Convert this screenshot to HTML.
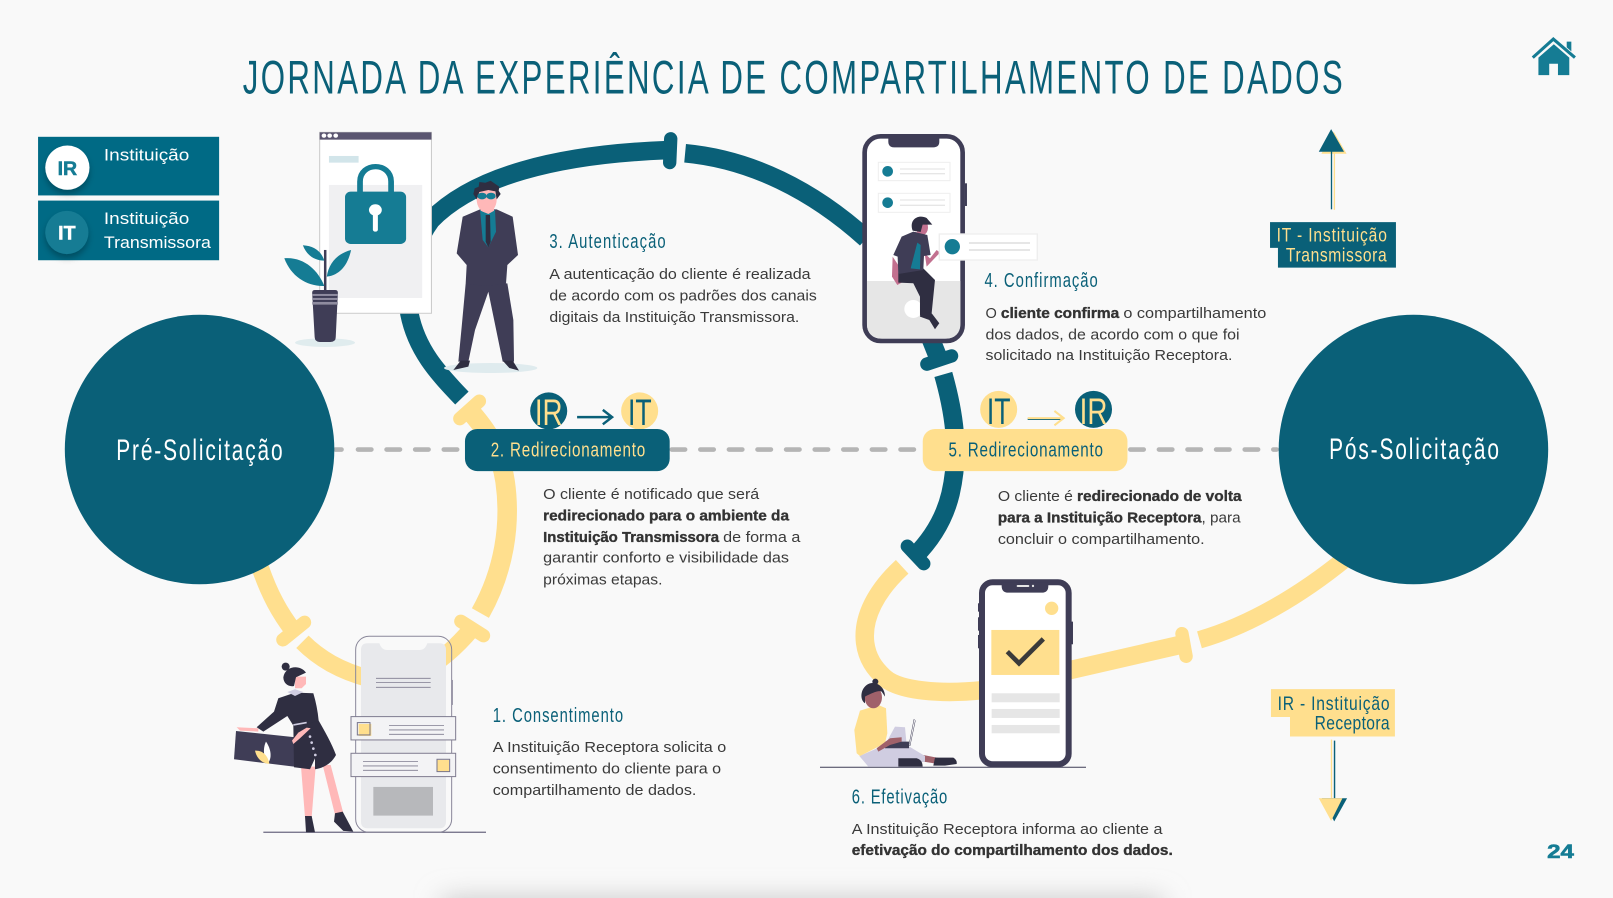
<!DOCTYPE html>
<html lang="pt"><head><meta charset="utf-8"><title>Jornada</title>
<style>html,body{margin:0;padding:0;background:#f9f9f9;width:1613px;height:898px;overflow:hidden}svg{display:block}
.n{font-family:"Liberation Sans",sans-serif}
.h{font-family:"Liberation Sans",sans-serif;fill:#0a6078;font-size:20px}
.b{font-family:"Liberation Sans",sans-serif;fill:#3a3a3a;font-size:14.4px}
.s{font-family:"Liberation Sans",sans-serif;fill:#333;font-size:14.4px;font-weight:700;stroke:#333;stroke-width:.35}
.y{stroke:#ffdf8e;fill:none;stroke-width:17}
.t{stroke:#0a6078;fill:none;stroke-width:18}
.d{stroke:#b5b5b5;stroke-width:4.5;stroke-linecap:round;stroke-dasharray:13 14.8}
</style></head><body>
<svg width="1613" height="898" viewBox="0 0 1568 873" preserveAspectRatio="none" xmlns="http://www.w3.org/2000/svg">
<defs>
<filter id="bl" x="-20%" y="-300%" width="140%" height="700%"><feGaussianBlur stdDeviation="13"/></filter>
<filter id="sh" x="-40%" y="-40%" width="180%" height="200%"><feDropShadow dx="0" dy="4" stdDeviation="3" flood-color="#000" flood-opacity=".28"/></filter>
</defs>
<rect width="1568" height="873" fill="#f9f9f9"/>
<rect x="430" y="874" width="700" height="24" fill="#c4c4c4" filter="url(#bl)"/>

<text class="n" transform="translate(236,91) scale(.66,1)" font-size="46" fill="#0a6078" textLength="1620" lengthAdjust="spacing">JORNADA DA EXPERIÊNCIA DE COMPARTILHAMENTO DE DADOS</text>

<!-- legend -->
<rect x="37" y="133" width="176" height="57" fill="#006a85"/>
<rect x="37" y="195" width="176" height="58" fill="#006a85"/>
<circle cx="65.5" cy="163" r="21.5" fill="#fff" filter="url(#sh)"/>
<circle cx="65" cy="226" r="21" fill="#157c94" filter="url(#sh)"/>
<text x="65.5" y="170" text-anchor="middle" class="n" font-weight="700" font-size="19" fill="#157c94" stroke="#157c94" stroke-width=".5">IR</text>
<text x="65" y="233" text-anchor="middle" class="n" font-weight="700" font-size="19" fill="#fff" stroke="#fff" stroke-width=".5">IT</text>
<g class="n" font-size="16.5" fill="#fff">
<text x="101" y="156" textLength="83" lengthAdjust="spacingAndGlyphs">Instituição</text>
<text x="101" y="218" textLength="83" lengthAdjust="spacingAndGlyphs">Instituição</text>
<text x="101" y="241" textLength="104" lengthAdjust="spacingAndGlyphs">Transmissora</text>
</g>

<!-- dashed axis -->
<line class="d" x1="326" y1="437" x2="332" y2="437"/>
<line class="d" x1="348" y1="437" x2="447" y2="437"/>
<line class="d" x1="653" y1="437" x2="895" y2="437"/>
<line class="d" x1="1098.800" y1="437" x2="1241" y2="437"/>

<!-- yellow ring -->
<path class="y" d="M253 552 C262 578 272 596 285 613"/>
<path class="y" d="M294 624 C310 640 330 652 360 660 C395 668 430 645 458 612"/>
<path class="y" style="stroke-width:19" d="M467 596 C490 555 497 510 491 468 C487 442 478 424 459 402"/>
<g stroke="#ffdf8e" stroke-width="13" stroke-linecap="round" fill="none">
<line x1="275" y1="622" x2="296" y2="605"/>
<line x1="448" y1="604" x2="470" y2="618"/>
<line x1="447" y1="407" x2="466" y2="390"/>
<line x1="1149" y1="616" x2="1153" y2="638"/>
</g>
<path class="y" style="stroke-width:18" d="M877 551 C852 574 838 600 841 625 C843 640 850 650 860 659 C875 672 915 675 955 671 L1147 627"/>
<path class="y" d="M1166 622 C1215 608 1265 578 1308 543"/>

<!-- teal ring -->
<path class="t" d="M449 387 C425 362 405 340 398 305 C394 270 400 240 419 214 C460 172 540 150 648 146"/>
<path class="t" d="M666 149 C730 155 790 185 842 232"/>
<path class="t" d="M905 330 L913 350"/>
<path class="t" d="M917 364 C930 410 932 445 924 480 C918 505 905 525 889 541"/>
<g stroke="#0a6078" stroke-width="13" stroke-linecap="round" fill="none">
<line x1="652" y1="135" x2="651" y2="158"/>
<line x1="901" y1="354" x2="925" y2="346"/>
<line x1="882" y1="531" x2="898" y2="548"/>
</g>

<!-- big circles -->
<circle cx="194" cy="437" r="131" fill="#0a6078"/>
<circle cx="1374" cy="437" r="131" fill="#0a6078"/>
<text class="n" transform="translate(113,447) scale(.7,1)" font-size="29" fill="#fff" textLength="231" lengthAdjust="spacing">Pré-Solicitação</text>
<text class="n" transform="translate(1292,446) scale(.7,1)" font-size="29" fill="#fff" textLength="236" lengthAdjust="spacing">Pós-Solicitação</text>

<!-- step 2/5 badges -->
<circle cx="533.4" cy="399.5" r="18" fill="#0a6078"/>
<circle cx="621.8" cy="399.5" r="18" fill="#ffdf8e"/>
<text class="n" x="533.4" y="413" text-anchor="middle" font-size="36" fill="#ffdf8e" textLength="27" lengthAdjust="spacingAndGlyphs">IR</text>
<text class="n" x="622" y="413" text-anchor="middle" font-size="36" fill="#0a6078" textLength="23" lengthAdjust="spacingAndGlyphs">IT</text>
<path d="M561 405.500H594M586 398.500L595 405.500L586 412.500" fill="none" stroke="#0a6078" stroke-width="2.400"/>
<rect x="452" y="417" width="199" height="41" rx="12" fill="#0a6078"/>
<text class="n" transform="translate(477,444) scale(.74,1)" font-size="20" fill="#ffdf8e" textLength="203" lengthAdjust="spacing">2. Redirecionamento</text>

<circle cx="970.800" cy="398" r="18" fill="#ffdf8e"/>
<circle cx="1063" cy="398" r="18" fill="#0a6078"/>
<text class="n" x="970.800" y="412" text-anchor="middle" font-size="36" fill="#0a6078" textLength="23" lengthAdjust="spacingAndGlyphs">IT</text>
<text class="n" x="1063" y="412" text-anchor="middle" font-size="36" fill="#ffdf8e" textLength="27" lengthAdjust="spacingAndGlyphs">IR</text>
<path d="M999 407.500H1033" stroke="#0a6078" stroke-width="1.500" fill="none"/>
<path d="M999 406.500H1033M1025 399.500L1034 406.500L1025 413.500" fill="none" stroke="#ffdf8e" stroke-width="2"/>
<rect x="897" y="417" width="199" height="41" rx="12" fill="#ffdf8e"/>
<text class="n" transform="translate(922,444) scale(.74,1)" font-size="20" fill="#0a6078" textLength="203" lengthAdjust="spacing">5. Redirecionamento</text>

<!-- browser + plant -->
<g transform="translate(0,97.2) scale(.3472,.324)">
<rect x="895" y="97" width="313" height="543" fill="#fff" stroke="#ccc" stroke-width="3"/>
<rect x="895" y="97" width="313" height="22" fill="#5a5570"/>
<circle cx="907" cy="107" r="6.500" fill="#fff"/><circle cx="923" cy="107" r="6.500" fill="#fff"/><circle cx="940" cy="107" r="6.500" fill="#fff"/>
<rect x="921" y="168" width="83" height="20" fill="#d2e5ea"/>
<rect x="921" y="255" width="261" height="339" fill="#f0f0f2"/>
<path d="M1008 285V245C1008 185 1095 185 1095 245V285" fill="none" stroke="#157c94" stroke-width="16"/>
<rect x="966" y="275" width="171" height="157" rx="16" fill="#157c94"/>
<ellipse cx="1051" cy="330" rx="18" ry="17" fill="#fff"/>
<rect x="1044" y="335" width="14" height="60" rx="6" fill="#fff"/>
<ellipse cx="910" cy="728" rx="84" ry="13" fill="#e0ecee"/>
<rect x="907" y="450" width="7" height="125" fill="#3f3d56"/>
<path d="M796 475C850 470 890 510 908 558C860 560 815 530 796 475Z" fill="#157c94"/>
<path d="M848 436C880 438 900 455 908 482C880 482 858 465 848 436Z" fill="#157c94"/>
<path d="M983 450C945 460 920 490 915 530C955 525 975 490 983 450Z" fill="#157c94"/>
<path d="M874 578Q874 570 882 570H938Q946 570 946 578L940 712Q940 726 925 726H895Q882 726 881 712Z" fill="#3f3d56"/>
<rect x="874" y="582" width="72" height="6" fill="#8f8c9f"/><rect x="874" y="594" width="72" height="6" fill="#8f8c9f"/><rect x="874" y="606" width="72" height="8" fill="#8f8c9f"/>
</g>
<!-- man -->
<g transform="translate(408.300,165.300) scale(.32403)">
<ellipse cx="212" cy="594" rx="140" ry="15" fill="#dfebee"/>
<path d="M137 340H262L280 450L282 575H248L205 365L165 480L145 575H115L125 470Z" fill="#3f3d56"/>
<path d="M100 600L122 572H150L145 590ZM248 572H278L297 602L268 594Z" fill="#2f2e41"/>
<path d="M128 140L180 118H230L278 140L294 255L262 285L258 340Q200 352 137 340L140 285L110 250Z" fill="#3f3d56"/>
<path d="M180 120H225L228 185L205 232L188 210Z" fill="#157c94"/>
<path d="M197 135H210L212 215L205 232L197 215Z" fill="#2f2e41"/>
<path d="M182 100H222V122L205 132L182 122Z" fill="#ffb8b8"/>
<ellipse cx="200" cy="88" rx="30" ry="40" fill="#ffb8b8"/>
<path d="M170 88L160 72L164 55L176 50L178 36L196 38L212 32L226 42L238 50L236 62L242 72L230 88L226 64L205 60L178 66Z" fill="#2f2e41"/>
<ellipse cx="186" cy="78" rx="14" ry="10" fill="#157c94"/><ellipse cx="213" cy="78" rx="14" ry="10" fill="#157c94"/>
</g>

<!-- step 1 phone and woman -->
<g transform="translate(194.420,466.600) scale(.32403)">
<line x1="190" y1="1057" x2="858" y2="1057" stroke="#6b6880" stroke-width="3.500"/>
<path d="M483 510Q483 490 503 490H538Q545 510 560 510H660Q675 510 682 490H718Q738 490 738 510V1025Q738 1045 718 1045H503Q483 1045 483 1025Z" fill="#e8e9ec"/>
<rect x="467" y="469" width="288" height="588" rx="40" fill="none" stroke="#8a879a" stroke-width="3"/>
<path d="M757 600V675" stroke="#8a879a" stroke-width="3"/>
<path d="M528 595H692M528 608H692M528 622H692" stroke="#7f7c90" stroke-width="2.500"/>
<rect x="453" y="710" width="314" height="70" fill="#f3f3f5" stroke="#7f7c90" stroke-width="3"/>
<rect x="453" y="820" width="314" height="70" fill="#f3f3f5" stroke="#7f7c90" stroke-width="3"/>
<rect x="476" y="732" width="38" height="36" fill="#ffdf8e"/><rect x="472" y="728" width="38" height="37" fill="none" stroke="#77748a" stroke-width="3"/>
<rect x="711" y="840" width="36" height="36" fill="#ffdf8e"/><rect x="711" y="838" width="38" height="37" fill="none" stroke="#77748a" stroke-width="3"/>
<path d="M567 737H732M567 750H732M567 763H732M489 845H654M489 858H654M489 871H654" stroke="#7f7c90" stroke-width="2.500"/>
<rect x="520" y="921" width="179" height="86" fill="#b7b8bb"/>
<path d="M303 860H347L335 1012H315ZM368 855H392L430 1000L405 1004Z" fill="#ffb8b8"/>
<path d="M315 1008H335L345 1057H318ZM405 1000L428 995L460 1055L430 1053L402 1025Z" fill="#2f2e41"/>
<path d="M108 753L285 772L282 860L102 838Z" fill="#3f3d56"/>
<path d="M198 785C215 810 215 835 205 848C190 835 188 805 198 785Z" fill="#fff"/>
<path d="M165 812C190 810 205 830 208 852C185 850 170 835 165 812Z" fill="#ffdf8e"/>
<path d="M110 742L175 745L175 755L120 752Z" fill="#ffb8b8"/>
<path d="M280 735L355 720C375 755 395 790 408 825C395 850 370 865 345 868V835L330 868L282 862Z" fill="#2f2e41"/>
<path d="M235 655L285 638L340 640Q352 680 356 722L285 745L262 708L190 755L170 742L222 695Z" fill="#2f2e41"/>
<path d="M262 636L285 628L310 636L285 648Z" fill="#d0cde1"/>
<path d="M280 735L320 728" stroke="#d0cde1" stroke-width="5"/>
<path d="M332 745L300 775L280 792L276 782L295 758L320 743Z" fill="#ffb8b8"/>
<g fill="#d0cde1"><circle cx="330" cy="770" r="4"/><circle cx="335" cy="788" r="4"/><circle cx="340" cy="806" r="4"/><circle cx="346" cy="825" r="4"/></g>
<path d="M285 590H318V612L305 625H285Z" fill="#ffb8b8"/>
<path d="M318 578C300 552 255 558 250 592C250 612 268 622 282 618L288 592Z" fill="#2f2e41"/>
<circle cx="257" cy="560" r="12" fill="#2f2e41"/>
</g>

<!-- step 4 phone -->
<g transform="translate(797.100,116.650) scale(.32403)">
<rect x="435" y="190" width="6" height="68" fill="#3f3d56"/>
<rect x="134" y="49" width="294" height="614" rx="48" fill="#fff" stroke="#3f3d56" stroke-width="14"/>
<path d="M141 483H421V610Q421 656 375 656H187Q141 656 141 610Z" fill="#e6e6e6"/>
<path d="M205 49H358V65Q358 82 340 82H223Q205 82 205 65Z" fill="#3f3d56"/>
<rect x="175" y="127" width="215" height="55" fill="#fff" stroke="#eee" stroke-width="3"/>
<rect x="175" y="220" width="215" height="57" fill="#fff" stroke="#eee" stroke-width="3"/>
<circle cx="203" cy="154" r="16" fill="#157c94"/><circle cx="203" cy="248" r="16" fill="#157c94"/>
<path d="M240 147H375M240 161H375M240 240H375M240 256H375" stroke="#e6e6e6" stroke-width="4"/>
<circle cx="280" cy="567" r="27" fill="#fff"/>
<path d="M285 335L298 362L315 345Z" fill="#c2708f"/>
<ellipse cx="306" cy="322" rx="18" ry="24" fill="#c2708f"/>
<path d="M278 332C266 298 295 282 320 294L337 314L308 314L302 336Z" fill="#2f2e41"/>
<path d="M218 410L216 470L232 495L245 488L238 440Z" fill="#c2708f"/>
<path d="M314 400L320 440L360 398L350 390L330 415Z" fill="#c2708f"/>
<path d="M235 460L310 445L345 480L335 580L300 585L300 530L280 490L235 488Z" fill="#2f2e41"/>
<path d="M302 575L335 580L358 610L345 628L328 600L300 590Z" fill="#2f2e41"/>
<path d="M245 350L280 335L322 345L332 405L312 408L310 450L235 462L233 410L220 405Z" fill="#3f3d56"/>
<path d="M292 368L302 375L300 448L272 445Z" fill="#157c94"/>
<rect x="358" y="342" width="294" height="78" fill="#fff" stroke="#eee" stroke-width="4"/>
<circle cx="397" cy="380" r="23" fill="#157c94"/>
<path d="M447 369H630M447 390H630" stroke="#e6e6e6" stroke-width="6"/>
</g>

<!-- step 6 phone and girl -->
<g transform="translate(787.400,486.050) scale(.32403)">
<line x1="30" y1="802" x2="828" y2="802" stroke="#3f3d56" stroke-width="3"/>
<g fill="#3f3d56"><rect x="504" y="310" width="6" height="25"/><rect x="504" y="352" width="6" height="40"/><rect x="504" y="405" width="6" height="40"/><rect x="783" y="365" width="6" height="68"/></g>
<rect x="516" y="247" width="260" height="546" rx="32" fill="#fff" stroke="#3f3d56" stroke-width="18"/>
<path d="M575 247H715V258Q715 278 695 278H595Q575 278 575 258Z" fill="#3f3d56"/>
<rect x="620" y="255" width="38" height="6" rx="3" fill="#e6e6e6"/><circle cx="669" cy="258" r="3.500" fill="#e6e6e6"/>
<circle cx="725" cy="325" r="20" fill="#ffdf8e"/>
<rect x="544" y="390" width="204" height="135" fill="#ffdf8e"/>
<path d="M592 455L627 490L700 417" fill="none" stroke="#3a3a3a" stroke-width="14"/>
<rect x="545" y="580" width="204" height="27" fill="#e6e6e6"/><rect x="545" y="627" width="204" height="27" fill="#e6e6e6"/><rect x="545" y="675" width="204" height="25" fill="#e6e6e6"/>
<path d="M340 765L390 775L385 792L340 785Z" fill="#a0616a"/>
<path d="M148 768L175 800H270L345 785L345 768L290 735L285 682L255 680L225 735Z" fill="#d0cde1"/>
<path d="M265 775H320Q338 780 338 800H265ZM375 773H430Q442 780 440 792L405 797H370Z" fill="#2f2e41"/>
<path d="M297 735L312 658L316 662L300 738Z" fill="#fff" stroke="#3f3d56" stroke-width="1.500"/>
<path d="M225 725H297V745H225Z" fill="#3f3d56"/>
<path d="M150 632L205 615L228 625L232 700L225 730L150 768L140 760L133 690Z" fill="#ffe08e"/>
<path d="M200 745L240 715L275 712L275 725L240 735L205 755Z" fill="#a0616a"/>
<ellipse cx="190" cy="592" rx="26" ry="33" fill="#a0616a"/>
<path d="M225 590C225 555 190 540 170 555C150 570 150 600 165 610L165 590C185 580 205 570 215 575Z" fill="#2f2e41"/>
<circle cx="196" cy="545" r="9" fill="#2f2e41"/>
</g>

<!-- text blocks -->
<text class="h" transform="translate(534,241) scale(.72,1)" textLength="157" lengthAdjust="spacing">3. Autenticação</text>
<text class="b" x="534" y="271" textLength="254" lengthAdjust="spacingAndGlyphs">A autenticação do cliente é realizada</text>
<text class="b" x="534" y="292" textLength="260" lengthAdjust="spacingAndGlyphs">de acordo com os padrões dos canais</text>
<text class="b" x="534" y="313" textLength="243" lengthAdjust="spacingAndGlyphs">digitais da Instituição Transmissora.</text>

<text class="h" transform="translate(957,279) scale(.72,1)" textLength="153" lengthAdjust="spacing">4. Confirmação</text>
<text class="b" x="958" y="309" textLength="11" lengthAdjust="spacingAndGlyphs">O</text>
<text class="s" x="973" y="309" textLength="115" lengthAdjust="spacingAndGlyphs">cliente confirma</text>
<text class="b" x="1092" y="309" textLength="139" lengthAdjust="spacingAndGlyphs">o compartilhamento</text>
<text class="b" x="958" y="330" textLength="247" lengthAdjust="spacingAndGlyphs">dos dados, de acordo com o que foi</text>
<text class="b" x="958" y="350" textLength="240" lengthAdjust="spacingAndGlyphs">solicitado na Instituição Receptora.</text>

<text class="b" x="528" y="485" textLength="210" lengthAdjust="spacingAndGlyphs">O cliente é notificado que será</text>
<text class="s" x="528" y="506" textLength="239" lengthAdjust="spacingAndGlyphs">redirecionado para o ambiente da</text>
<text class="s" x="528" y="527" textLength="171" lengthAdjust="spacingAndGlyphs">Instituição Transmissora</text>
<text class="b" x="703" y="527" textLength="75" lengthAdjust="spacingAndGlyphs">de forma a</text>
<text class="b" x="528" y="547" textLength="239" lengthAdjust="spacingAndGlyphs">garantir conforto e visibilidade das</text>
<text class="b" x="528" y="568" textLength="116" lengthAdjust="spacingAndGlyphs">próximas etapas.</text>

<text class="b" x="970" y="487" textLength="73" lengthAdjust="spacingAndGlyphs">O cliente é</text>
<text class="s" x="1047" y="487" textLength="160" lengthAdjust="spacingAndGlyphs">redirecionado de volta</text>
<text class="s" x="970" y="508" textLength="198" lengthAdjust="spacingAndGlyphs">para a Instituição Receptora</text>
<text class="b" x="1168" y="508" textLength="38" lengthAdjust="spacingAndGlyphs">, para</text>
<text class="b" x="970" y="529" textLength="201" lengthAdjust="spacingAndGlyphs">concluir o compartilhamento.</text>

<text class="h" transform="translate(479,702) scale(.72,1)" textLength="176" lengthAdjust="spacing">1. Consentimento</text>
<text class="b" x="479" y="731" textLength="227" lengthAdjust="spacingAndGlyphs">A Instituição Receptora solicita o</text>
<text class="b" x="479" y="752" textLength="222" lengthAdjust="spacingAndGlyphs">consentimento do cliente para o</text>
<text class="b" x="479" y="773" textLength="198" lengthAdjust="spacingAndGlyphs">compartilhamento de dados.</text>

<text class="h" transform="translate(828,781) scale(.72,1)" textLength="129" lengthAdjust="spacing">6. Efetivação</text>
<text class="b" x="828" y="811" textLength="302" lengthAdjust="spacingAndGlyphs">A Instituição Receptora informa ao cliente a</text>
<text class="s" x="828" y="831" textLength="312" lengthAdjust="spacingAndGlyphs">efetivação do compartilhamento dos dados.</text>

<!-- IT label -->
<path d="M1284.500 149.500L1296.500 128L1309 149.500Z" fill="#ffdf8e"/>
<rect x="1296.500" y="148" width="1.300" height="56" fill="#ffdf8e"/>
<path d="M1282 147.500L1294 125.500L1306.500 147.500Z" fill="#0a6078"/>
<rect x="1293.700" y="147" width="1.300" height="56.500" fill="#0a6078"/>
<path d="M1234.600 216H1357V260.200H1242.300V241H1234.600Z" fill="#0a6078"/>
<g class="n" font-size="19" fill="#ffdf8e">
<text transform="translate(1241,235) scale(.8,1)" textLength="134" lengthAdjust="spacing">IT - Instituição</text>
<text transform="translate(1250,254) scale(.8,1)" textLength="122.500" lengthAdjust="spacing">Transmissora</text>
</g>

<!-- IR label -->
<path d="M1235.500 670H1356V716H1254V697H1235.500Z" fill="#ffdf8e"/>
<g class="n" font-size="19" fill="#0a6078">
<text transform="translate(1242,690) scale(.8,1)" textLength="136" lengthAdjust="spacing">IR - Instituição</text>
<text transform="translate(1278,709) scale(.8,1)" textLength="91" lengthAdjust="spacing">Receptora</text>
</g>
<rect x="1296.600" y="720" width="1.400" height="56" fill="#0a6078"/>
<rect x="1293.700" y="719" width="1.300" height="57" fill="#ffdf8e"/>
<path d="M1285 776H1309.500L1297 798.500Z" fill="#0a6078"/>
<path d="M1282 776H1305L1294 798Z" fill="#ffdf8e"/>

<!-- home -->
<path d="M1490 56L1510 38L1531 56" fill="none" stroke="#157c94" stroke-width="3"/>
<path d="M1523 40.500H1527.500V50L1523 46Z" fill="#157c94"/>
<path d="M1495.500 56L1510.500 43L1525.500 56V73H1514.500V62H1506V73H1495.500Z" fill="#157c94"/>

<text class="n" x="1504" y="834" font-weight="700" font-size="19" fill="#157c94" stroke="#157c94" stroke-width=".6" textLength="26" lengthAdjust="spacingAndGlyphs">24</text>
</svg>
</body></html>
